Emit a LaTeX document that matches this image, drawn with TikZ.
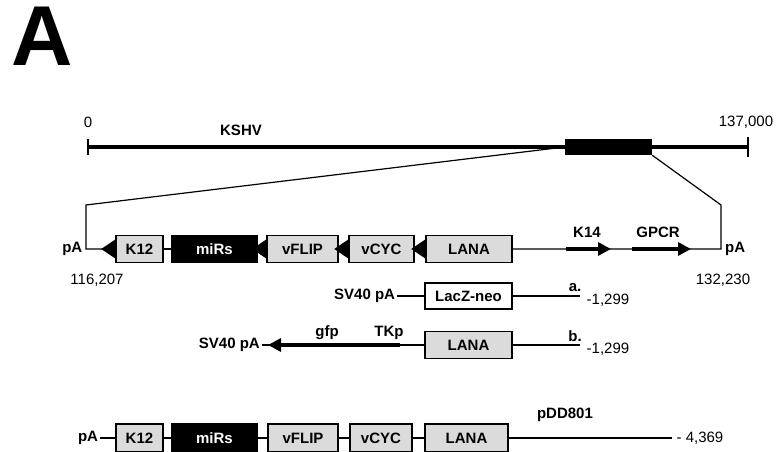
\documentclass[tikz,border=0pt]{standalone}
\usepackage{fontspec}
\setmainfont{Liberation Sans}
\usetikzlibrary{arrows.meta, positioning, calc}

% filled promoter triangle pointing left, sitting on the west side of a box
\newcommand{\leftpromo}[1]{%
  \fill ([xshift=-14pt]#1.west) -- ([yshift=9.5pt]#1.west) -- ([yshift=-9.5pt]#1.west) -- cycle;}

\begin{document}
\begin{tikzpicture}[x=1pt, y=-1pt,
    gene/.style={draw, line width=1.5pt, fill=#1, minimum height=27pt,
                 inner sep=0pt, font=\fontsize{15}{17}\selectfont\bfseries},
    gene/.default=gray!28,
    lbl/.style={font=\fontsize{15}{17}\selectfont\bfseries, inner sep=2pt},
    num/.style={font=\fontsize{15}{17}\selectfont, inner sep=0pt},
    link/.style={line width=1.2pt},
    orf/.style={line width=3.5pt, -{Triangle[length=13pt, width=13pt]}},
    node distance=4pt
  ]
  \useasboundingbox (0,0) rectangle (776,452);

  % Panel letter
  \node[font=\fontsize{85}{85}\selectfont\bfseries, inner sep=0pt] at (42,36) {A};

  % KSHV genome
  \coordinate (gs) at (88,147);
  \coordinate (ge) at (748,147);
  \draw[line width=4pt] (gs) -- (ge);
  \draw[line width=1.5pt] ([yshift=8pt]gs) -- ([yshift=-8pt]gs);
  \draw[line width=1.5pt] ([yshift=10pt]ge) -- ([yshift=-10pt]ge);
  \node[fill=black, minimum width=87pt, minimum height=16pt, inner sep=0pt] (blk) at (608.5,147) {};
  \node[num] at (88,122) {0};
  \node[lbl] at (241,130) {KSHV};
  \node[num] at (746,122) {137,000};

  % Latency locus
  \node[gene, minimum width=47pt] (k12) at (139.5,249) {K12};
  \node[gene=black, text=white, minimum width=85pt] (mirs) at (214.5,249) {miRs};
  \node[gene, minimum width=71pt] (vflip) at (302.5,249) {vFLIP};
  \node[gene, minimum width=65pt] (vcyc) at (381.5,249) {vCYC};
  \node[gene, minimum width=86pt] (lana) at (469,249) {LANA};

  \coordinate (cutL) at (86,205);
  \coordinate (axL) at (86,249);
  \coordinate (cutR) at (721,205);
  \coordinate (axR) at (721,249);

  \draw[link] (blk.west) -- (cutL) -- (axL) -- (k12);
  \foreach \a/\b in {k12/mirs, mirs/vflip, vflip/vcyc, vcyc/lana}
    \draw[link] (\a) -- (\b);
  \draw[link] (lana) -- (axR) -- (cutR) -- (blk.south east);

  \foreach \g in {k12, vflip, vcyc, lana}
    {\leftpromo{\g}}

  \coordinate (k14s) at (566,249);
  \coordinate (k14e) at (611,249);
  \coordinate (gpcrs) at (632,249);
  \coordinate (gpcre) at (691,249);
  \draw[orf] (k14s) -- (k14e);
  \draw[orf] (gpcrs) -- (gpcre);
  \node[lbl] at (587,232) {K14};
  \node[lbl] at (658,232) {GPCR};

  \node[lbl, left=1.5pt of axL] {pA};
  \node[lbl, right=2pt of axR] {pA};
  \node[num] at (97,280) {116,207};
  \node[num] at (723,280) {132,230};

  % Construct a.
  \node[gene=white, minimum width=87pt, minimum height=26pt] (lacz) at (468.5,296) {LacZ-neo};
  \node[lbl, left=27pt of lacz] (sv40a) {SV40 pA};
  \coordinate (enda) at (580,296);
  \draw[link] (sv40a) -- (lacz);
  \draw[link] (lacz) -- (enda);
  \node[lbl, inner sep=0pt] at (575,288) {a.};
  \node[num] at (608,300) {-1,299};

  % Construct b.
  \node[gene, minimum width=87pt] (lana2) at (468.5,345) {LANA};
  \coordinate (tkp) at (400,345);
  \coordinate (gfptip) at (268,345);
  \coordinate (endb) at (580,345);
  \node[lbl, left=6pt of gfptip] (sv40b) {SV40 pA};
  \draw[link] (sv40b) -- (lana2);
  \draw[link] (lana2) -- (endb);
  \draw[orf] (tkp) -- (gfptip);
  \node[lbl, inner sep=0pt] at (327,333) {gfp};
  \node[lbl, inner sep=0pt] at (389,333) {TKp};
  \node[lbl, inner sep=0pt] at (575,336) {b.};
  \node[num] at (608,349) {-1,299};

  % pDD801
  \node[gene, minimum width=47pt, minimum height=28pt] (k12b) at (139.5,438) {K12};
  \node[gene=black, text=white, minimum width=85pt, minimum height=28pt] (mirsb) at (214.5,438) {miRs};
  \node[gene, minimum width=70pt, minimum height=28pt] (vflipb) at (303,438) {vFLIP};
  \node[gene, minimum width=62pt, minimum height=28pt] (vcycb) at (381,438) {vCYC};
  \node[gene, minimum width=83pt, minimum height=28pt] (lanab) at (466.5,438) {LANA};
  \node[lbl, left=15pt of k12b] (pab) {pA};
  \coordinate (endc) at (672,438);

  \draw[link] (pab) -- (k12b);
  \foreach \a/\b in {k12b/mirsb, mirsb/vflipb, vflipb/vcycb, vcycb/lanab}
    \draw[link] (\a) -- (\b);
  \draw[link] (lanab) -- (endc);
  \node[lbl, inner sep=0pt] at (565,415) {pDD801};
  \node[num] at (700,438) {- 4,369};

\end{tikzpicture}
\end{document}
